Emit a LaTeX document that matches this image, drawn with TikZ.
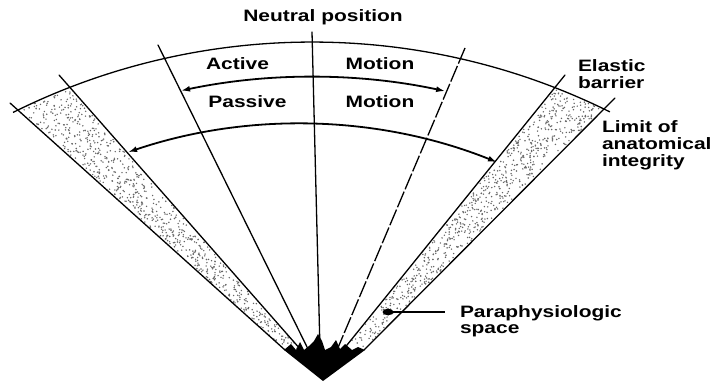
\documentclass[tikz,border=0pt]{standalone}
\usepackage{fontspec}
\setmainfont{Liberation Sans}
\usepackage{graphicx}
\usetikzlibrary{arrows.meta}
\newcommand{\wtxt}[1]{\scalebox{1.27}[1]{\fontsize{16.5}{16.5}\selectfont\bfseries #1}}
\newcommand{\wlines}[1]{\scalebox{1.27}[1]{\fontsize{16.5}{16.5}\selectfont\bfseries\begin{tabular}[t]{@{}l@{}}#1\end{tabular}}}
\tikzset{
  ray/.style={line width=1.3pt, line cap=round},
  dashray/.style={line width=1.3pt, dash pattern=on 17pt off 2.5pt},
  rim/.style={line width=1.3pt},
  motion/.style={line width=1.8pt, arrows={Latex[length=9pt,width=6pt]-Latex[length=9pt,width=6pt]}},
  lbl/.style={inner sep=0pt, outer sep=0pt},
  stip/.style={fill=black!60}
}
\begin{document}
\begin{tikzpicture}[x=1pt,y=-1pt]
\fill[white] (0,0) rectangle (711,382);
\useasboundingbox (0,0) rectangle (711,382);

% ray end points
\coordinate (LLt) at (10,103);  \coordinate (LLb) at (285,350);
\coordinate (LEt) at (59,75);   \coordinate (LEb) at (301,350);
\coordinate (LAt) at (158,45);  \coordinate (LAb) at (308,349);
\coordinate (Nt)  at (312,32);  \coordinate (Nb)  at (320,350);
\coordinate (RAt) at (465,48);  \coordinate (RAb) at (337,350);
\coordinate (REt) at (565,75);  \coordinate (REb) at (343,350);
\coordinate (RLt) at (615,98);  \coordinate (RLb) at (364,350);

% stippled bands
\pgfmathsetseed{11}
\foreach \i in {1,...,750}{
  \pgfmathsetmacro\t{1-(rnd)^0.7}
  \pgfmathsetmacro\s{0.04+0.92*rnd}
  \pgfmathsetmacro\px{(1-\s)*(18+\t*(285-18)) + \s*(70+\t*(301-70))}
  \pgfmathsetmacro\py{(1-\s)*(110+\t*(350-110)) + \s*(87.3+\t*(350-87.3))}
  \fill[stip] (\px,\py) circle[radius=0.8];
}
\foreach \i in {1,...,750}{
  \pgfmathsetmacro\t{1-(rnd)^0.7}
  \pgfmathsetmacro\s{0.04+0.92*rnd}
  \pgfmathsetmacro\px{(1-\s)*(604+\t*(364-604)) + \s*(555+\t*(343-555))}
  \pgfmathsetmacro\py{(1-\s)*(109+\t*(350-109)) + \s*(87.5+\t*(350-87.5))}
  \fill[stip] (\px,\py) circle[radius=0.8];
}

% rays
\draw[ray] (LLt) -- (LLb);
\draw[ray] (LEt) -- (LEb);
\draw[ray] (LAt) -- (LAb);
\draw[ray] (Nt) -- (Nb);
\draw[dashray] (RAt) -- (RAb);
\draw[ray] (REt) -- (REb);
\draw[ray] (RLt) -- (RLb);

% outer rim arc
\coordinate (C) at (312,712);
\draw[rim] (C) ++(-116.5:670) arc[start angle=-116.5, end angle=-63.6, radius=670];

% motion arrows
\draw[motion] (C) ++(-101.9:635) arc[start angle=-101.9, end angle=-77.9, radius=635];
\coordinate (C2) at (299,657);
\draw[motion] (C2) ++(-108.7:533) arc[start angle=-108.7, end angle=-68.2, radius=533];

% apex blob
\fill[black] (284,350) -- (291,344) -- (296,350) -- (300,342) -- (304,350) -- (309,346)
  -- (314,341) -- (318,334) -- (322,341) -- (325,350) -- (331,347) -- (336,340)
  -- (340,349) -- (345,344) -- (352,350) -- (358,347) -- (365,350) -- (323,381) -- cycle;

% paraphysiologic marker
\coordinate (pdot) at (388,312);
\coordinate (pend) at (445,312);
\fill[black] (pdot) ellipse[x radius=5.5, y radius=3.3];
\draw[line width=1.3pt] (pdot) -- (pend);

% labels
\node[lbl, anchor=base] (neutral) at (323,22) {\wtxt{Neutral position}};
\node[lbl, anchor=base] (active) at (237.5,70) {\wtxt{Active}};
\node[lbl, anchor=base] (motion1) at (380,70) {\wtxt{Motion}};
\node[lbl, anchor=base] (passive) at (247.5,108) {\wtxt{Passive}};
\node[lbl, anchor=base] (motion2) at (380,108) {\wtxt{Motion}};
\node[lbl, anchor=base west] (elastic) at (578,72) {\wlines{Elastic\\barrier}};
\node[lbl, anchor=base west] (limit) at (602,133) {\wlines{Limit of\\anatomical\\integrity}};
\node[lbl, anchor=base west] (para) at (460,317) {\wlines{Paraphysiologic\\space}};
\end{tikzpicture}
\end{document}
